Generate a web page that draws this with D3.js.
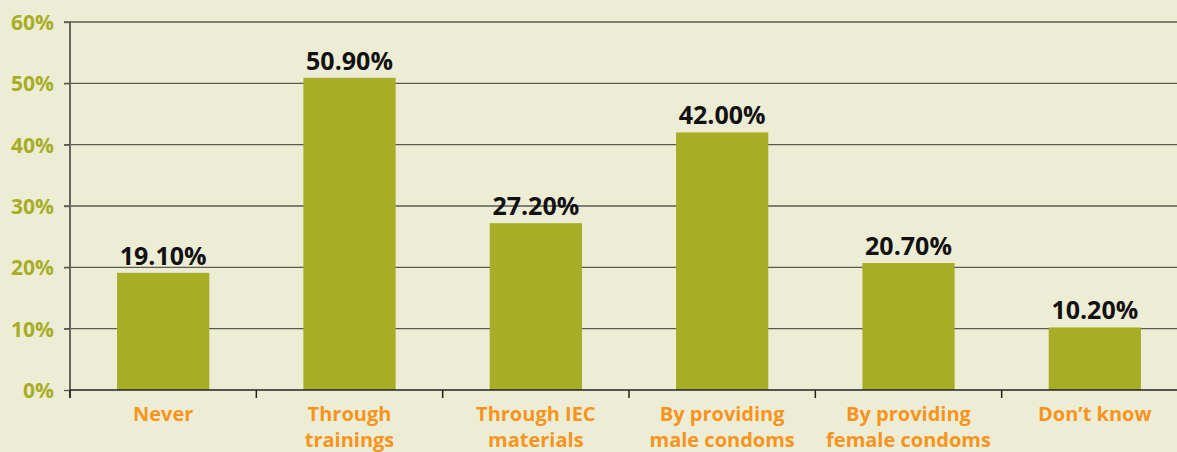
<!DOCTYPE html>
<html>
<head>
<meta charset="utf-8">
<script src="https://cdn.jsdelivr.net/npm/d3@7"></script>
<style>
  body { margin: 0; background: #ecedd4; }
  svg { display: block; }
</style>
</head>
<body>
<svg class="chart" width="1177" height="452"></svg>
<script>
  var categories = [["Never"], ["Through", "trainings"], ["Through IEC", "materials"],
    ["By providing", "male condoms"], ["By providing", "female condoms"], ["Don\u2019t know"]];
  var values = [19.1, 50.9, 27.2, 42.0, 20.7, 10.2];
  var yTicks = [0, 10, 20, 30, 40, 50, 60];

  var font = "'Open Sans', sans-serif";
  var plotLeft = 70, plotTop = 22, plotBottom = 390, plotRight = 1188;

  var svg = d3.select(".chart");

  var x = d3.scaleBand()
      .domain(d3.range(values.length))
      .range([plotLeft, plotRight])
      .paddingInner(0.505)
      .paddingOuter(0.2525);

  var y = d3.scaleLinear()
      .domain([0, 60])
      .range([plotBottom, plotTop]);

  // grid lines
  svg.append("g").selectAll("line")
      .data(yTicks.filter(function(d) { return d > 0; }))
    .enter().append("line")
      .attr("x1", plotLeft - 6).attr("x2", 1177)
      .attr("y1", function(d) { return y(d); })
      .attr("y2", function(d) { return y(d); })
      .attr("stroke", "#5a5a50")
      .attr("stroke-width", 1.3);

  // bars
  svg.append("g").selectAll("rect")
      .data(values)
    .enter().append("rect")
      .attr("x", function(d, i) { return x(i); })
      .attr("y", function(d) { return y(d); })
      .attr("width", x.bandwidth())
      .attr("height", function(d) { return plotBottom - y(d); })
      .attr("fill", "#a8ad26");

  // y axis
  var yAxis = svg.append("g")
      .attr("transform", "translate(" + plotLeft + ",0)")
      .call(d3.axisLeft(y).tickValues(yTicks).tickSize(6).tickFormat(function(d) { return d + "%"; }));
  yAxis.select(".domain").attr("stroke", "#66665c").attr("stroke-width", 2)
      .attr("d", "M0," + plotTop + "V" + (plotBottom + 8));
  yAxis.selectAll(".tick line").attr("stroke", "#5a5a50").attr("stroke-width", 1.3);
  yAxis.selectAll(".tick text")
      .attr("x", -16)
      .attr("dy", "0.36em")
      .attr("fill", "#a8ad26")
      .style("font", "bold 21px " + font);

  // x axis line + ticks at band edges
  svg.append("line")
      .attr("x1", plotLeft).attr("x2", 1177)
      .attr("y1", plotBottom).attr("y2", plotBottom)
      .attr("stroke", "#222").attr("stroke-width", 1.5);
  svg.append("g").selectAll("line")
      .data(d3.range(values.length))
    .enter().append("line")
      .attr("x1", function(d) { return x(d) - x.step() * x.paddingInner() / 2; })
      .attr("x2", function(d) { return x(d) - x.step() * x.paddingInner() / 2; })
      .attr("y1", plotBottom).attr("y2", plotBottom + 8)
      .attr("stroke", "#222").attr("stroke-width", 1.5);

  // category labels
  svg.append("g").selectAll("text")
      .data(categories)
    .enter().append("text")
      .attr("text-anchor", "middle")
      .attr("fill", "#f7941d")
      .style("font", "bold 20px " + font)
      .each(function(d, i) {
        var t = d3.select(this);
        d.forEach(function(line, j) {
          t.append("tspan")
            .attr("x", x(i) + x.bandwidth() / 2)
            .attr("y", 421 + j * 26)
            .text(line);
        });
      });

  // value labels
  svg.append("g").selectAll("text")
      .data(values)
    .enter().append("text")
      .attr("x", function(d, i) { return x(i) + x.bandwidth() / 2; })
      .attr("y", function(d) { return y(d) - 8; })
      .attr("text-anchor", "middle")
      .attr("fill", "#111")
      .style("font", "bold 25px " + font)
      .text(function(d) { return d.toFixed(2) + "%"; });
</script>
</body>
</html>
